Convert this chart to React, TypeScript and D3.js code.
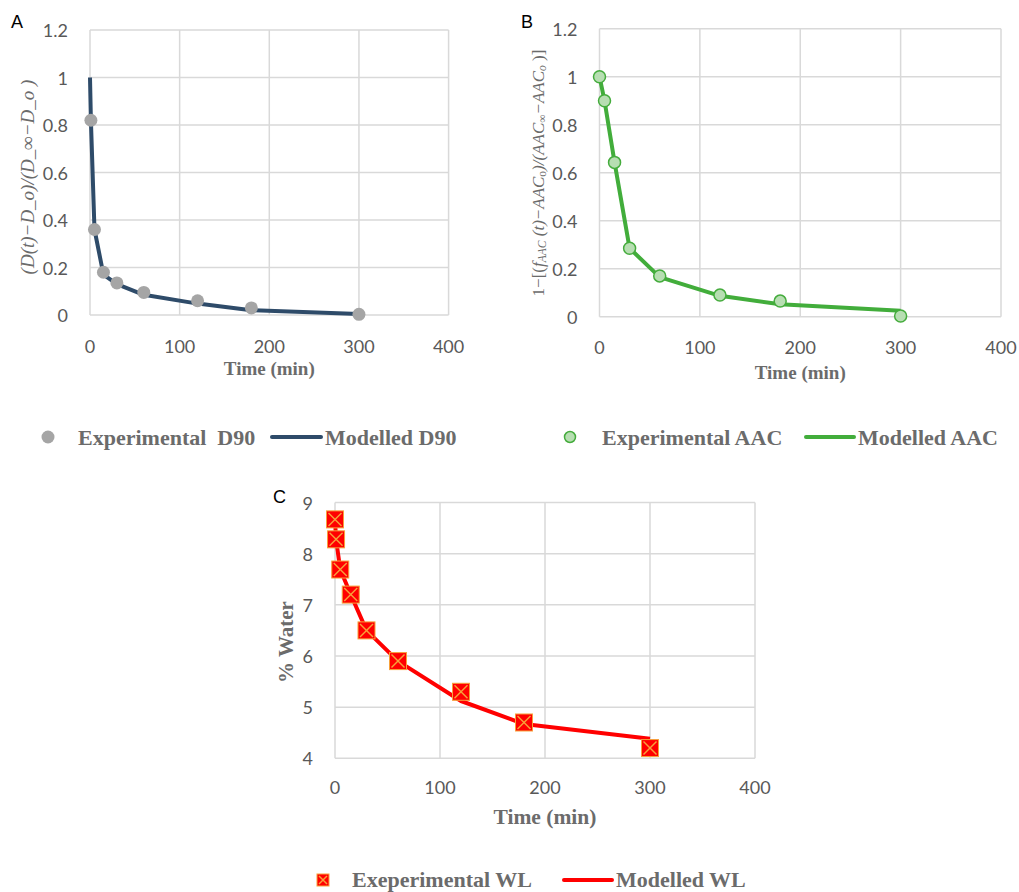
import React from "react";
import * as d3 from "d3";

// Panel A: D90 dimensionless change
const timesA = [1, 5, 15, 30, 60, 120, 180, 300];
const expD90 = [0.82, 0.36, 0.18, 0.135, 0.095, 0.06, 0.03, 0.003];
const modelTimesA = [0, 1, 5, 15, 30, 60, 120, 180, 300];
const modelD90 = [1.0, 0.82, 0.36, 0.17, 0.13, 0.085, 0.048, 0.02, 0.004];

// Panel B: AAC dimensionless change
const timesB = [0, 5, 15, 30, 60, 120, 180, 300];
const expAAC = [1.0, 0.9, 0.643, 0.285, 0.17, 0.09, 0.065, 0.003];
const modelAAC = [1.0, 0.9, 0.643, 0.285, 0.165, 0.087, 0.052, 0.025];

// Panel C: water content
const timesC = [0, 1, 5, 15, 30, 60, 120, 180, 300];
const expWater = [8.67, 8.28, 7.69, 7.2, 6.5, 5.9, 5.3, 4.7, 4.2];
const modelWater = [8.67, 8.28, 7.69, 7.2, 6.5, 5.9, 5.12, 4.67, 4.38];

const xTicks = [0, 100, 200, 300, 400];
const yTicksAB = [0, 0.2, 0.4, 0.6, 0.8, 1.0, 1.2];
const yTicksC = [4, 5, 6, 7, 8, 9];

const GRID = "#D9D9D9";
const TICK_TEXT = "#595959";
const TITLE_TEXT = "#6b6b6b";
const SANS = "Lato, 'Open Sans', sans-serif";
const SERIF = "'Liberation Serif', 'DejaVu Serif', serif";

type Scales = {
  x: d3.ScaleLinear<number, number>;
  y: d3.ScaleLinear<number, number>;
};

function Frame({
  x,
  y,
  yTicks,
  fmt,
  xLabelDy,
  titleDy,
  titleSize,
}: Scales & {
  yTicks: number[];
  fmt: (v: number) => string;
  xLabelDy: number;
  titleDy: number;
  titleSize: number;
}) {
  const [x0, x1] = x.range();
  const [y0, y1] = y.range();
  return (
    <g>
      {yTicks.map((t) => (
        <line key={"h" + t} x1={x0} x2={x1} y1={y(t)} y2={y(t)} stroke={GRID} strokeWidth={1.5} />
      ))}
      {xTicks.map((t) => (
        <line key={"v" + t} x1={x(t)} x2={x(t)} y1={y0} y2={y1} stroke={GRID} strokeWidth={1.5} />
      ))}
      {yTicks.map((t) => (
        <text
          key={"yl" + t}
          x={x0 - 22}
          y={y(t)}
          textAnchor="end"
          dominantBaseline="central"
          fontFamily={SANS}
          fontSize={18}
          fill={TICK_TEXT}
        >
          {fmt(t)}
        </text>
      ))}
      {xTicks.map((t) => (
        <text
          key={"xl" + t}
          x={x(t)}
          y={y0 + xLabelDy}
          textAnchor="middle"
          dominantBaseline="central"
          fontFamily={SANS}
          fontSize={18}
          fill={TICK_TEXT}
        >
          {t}
        </text>
      ))}
      <text
        x={(x0 + x1) / 2}
        y={y0 + titleDy}
        textAnchor="middle"
        fontFamily={SERIF}
        fontWeight="bold"
        fontSize={titleSize}
        fill={TITLE_TEXT}
      >
        Time (min)
      </text>
    </g>
  );
}

function linePath(s: Scales, ts: number[], vs: number[]): string {
  const pts: [number, number][] = ts.map((t, i) => [t, vs[i]]);
  return (
    d3
      .line<[number, number]>()
      .x((d) => s.x(d[0]))
      .y((d) => s.y(d[1]))
      .curve(d3.curveLinear)(pts) || ""
  );
}

function SquareX({ cx, cy, size }: { cx: number; cy: number; size: number }) {
  const h = size / 2;
  const k = h - 2;
  return (
    <g>
      <rect x={cx - h} y={cy - h} width={size} height={size} fill="#FF0000" stroke="#F7A13A" strokeWidth={1} />
      <line x1={cx - k} y1={cy - k} x2={cx + k} y2={cy + k} stroke="#F7A13A" strokeWidth={1.4} />
      <line x1={cx - k} y1={cy + k} x2={cx + k} y2={cy - k} stroke="#F7A13A" strokeWidth={1.4} />
    </g>
  );
}

export default function App() {
  const fmtAB = (v: number) => d3.format("~g")(+v.toFixed(1));
  const fmtC = (v: number) => String(v);

  const sA: Scales = {
    x: d3.scaleLinear().domain([0, 400]).range([90, 448.6]),
    y: d3.scaleLinear().domain([0, 1.2]).range([315, 30]),
  };
  const sB: Scales = {
    x: d3.scaleLinear().domain([0, 400]).range([599.5, 1001]),
    y: d3.scaleLinear().domain([0, 1.2]).range([316.7, 28.7]),
  };
  const sC: Scales = {
    x: d3.scaleLinear().domain([0, 400]).range([335, 755]),
    y: d3.scaleLinear().domain([4, 9]).range([758.3, 502.5]),
  };

  const legendText = {
    fontFamily: SERIF,
    fontWeight: "bold" as const,
    fontSize: 22,
    fill: TITLE_TEXT,
    dominantBaseline: "central" as const,
  };

  return (
    <svg
      width={1019}
      height={892}
      style={{ position: "absolute", left: 0, top: 0, background: "#fff" }}
    >
      <rect width={1019} height={892} fill="#fff" />

      {/* Panel A */}
      <text x={11} y={28} fontFamily="'Liberation Sans', Arial, sans-serif" fontSize={18} fill="#000">A</text>
      <Frame {...sA} yTicks={yTicksAB} fmt={fmtAB} xLabelDy={31} titleDy={60} titleSize={19} />
      <text
        transform={`translate(27,177) rotate(-90)`}
        textAnchor="middle"
        dominantBaseline="central"
        fontFamily={SERIF}
        fontStyle="italic"
        fontSize={19}
        fill={TITLE_TEXT}
      >
        (D(t)−D_o)/(D_∞−D_o )
      </text>
      <path d={linePath(sA, modelTimesA, modelD90)} fill="none" stroke="#2E4B69" strokeWidth={4} strokeLinejoin="round" />
      {timesA.map((t, i) => (
        <circle key={"a" + i} cx={sA.x(t)} cy={sA.y(expD90[i])} r={6.5} fill="#A5A5A5" />
      ))}
      <circle cx={48} cy={437} r={6.5} fill="#A5A5A5" />
      <text x={78} y={437} {...legendText} xmlSpace="preserve">Experimental  D90</text>
      <line x1={272} x2={321} y1={437} y2={437} stroke="#2E4B69" strokeWidth={4} strokeLinecap="round" />
      <text x={325} y={437} {...legendText}>Modelled D90</text>

      {/* Panel B */}
      <text x={521} y={28} fontFamily="'Liberation Sans', Arial, sans-serif" fontSize={18} fill="#000">B</text>
      <Frame {...sB} yTicks={yTicksAB} fmt={fmtAB} xLabelDy={30} titleDy={62} titleSize={19} />
      <text
        transform={`translate(538,173) rotate(-90)`}
        textAnchor="middle"
        dominantBaseline="central"
        fontFamily={SERIF}
        fontSize={17}
        fill={TITLE_TEXT}
      >
        <tspan>1−[(</tspan>
        <tspan fontStyle="italic">f</tspan>
        <tspan fontStyle="italic" fontSize={11.5} dy={4}>AAC</tspan>
        <tspan fontStyle="italic" dy={-4}> (t)−AAC</tspan>
        <tspan fontSize={11.5} dy={4}>o</tspan>
        <tspan fontStyle="italic" dy={-4}>)/(AAC</tspan>
        <tspan fontSize={11.5} dy={4}>∞</tspan>
        <tspan fontStyle="italic" dy={-4}>−AAC</tspan>
        <tspan fontStyle="italic" fontSize={11.5} dy={4}>o</tspan>
        <tspan dy={-4}> )]</tspan>
      </text>
      <path d={linePath(sB, timesB, modelAAC)} fill="none" stroke="#42AD3B" strokeWidth={4} strokeLinejoin="round" />
      {timesB.map((t, i) => (
        <circle key={"b" + i} cx={sB.x(t)} cy={sB.y(expAAC[i])} r={6} fill="#B7DEB2" stroke="#45AC3D" strokeWidth={1.5} />
      ))}
      <circle cx={570} cy={437} r={5.5} fill="#B7DEB2" stroke="#45AC3D" strokeWidth={1.5} />
      <text x={602} y={437} {...legendText}>Experimental AAC</text>
      <line x1={806} x2={854} y1={437} y2={437} stroke="#42AD3B" strokeWidth={4} strokeLinecap="round" />
      <text x={858} y={437} {...legendText}>Modelled AAC</text>

      {/* Panel C */}
      <text x={273} y={503} fontFamily="'Liberation Sans', Arial, sans-serif" fontSize={18} fill="#000">C</text>
      <Frame {...sC} yTicks={yTicksC} fmt={fmtC} xLabelDy={29} titleDy={66} titleSize={21.5} />
      <text
        transform={`translate(286,642) rotate(-90)`}
        textAnchor="middle"
        dominantBaseline="central"
        fontFamily={SERIF}
        fontWeight="bold"
        fontSize={21}
        fill={TITLE_TEXT}
      >
        % Water
      </text>
      <path d={linePath(sC, timesC, modelWater)} fill="none" stroke="#FF0000" strokeWidth={4} strokeLinejoin="round" />
      {timesC.map((t, i) => (
        <SquareX key={"c" + i} cx={sC.x(t)} cy={sC.y(expWater[i])} size={17} />
      ))}
      <SquareX cx={323} cy={880} size={12} />
      <text x={352} y={879} {...legendText}>Exeperimental WL</text>
      <line x1={564} x2={612} y1={880} y2={880} stroke="#FF0000" strokeWidth={4} strokeLinecap="round" />
      <text x={616} y={879} {...legendText}>Modelled WL</text>
    </svg>
  );
}
